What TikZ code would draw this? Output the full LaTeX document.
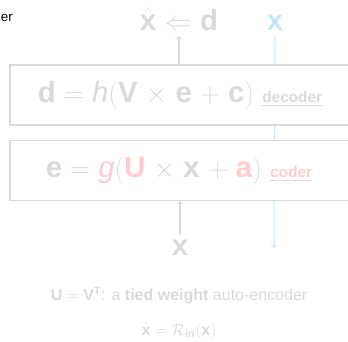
\documentclass[tikz,border=0pt]{standalone}
\usepackage{fontspec}
\setmainfont{Liberation Sans}
\usetikzlibrary{positioning}

\definecolor{fadegray}{RGB}{218,218,218}
\definecolor{fadered}{RGB}{255,205,205}
\definecolor{fadeblue}{RGB}{196,230,248}

\newcommand{\hatx}{$\hat{\hbox{\textbf{x}}}$}

\begin{document}
\begin{tikzpicture}[x=0.75pt, y=-0.75pt,
  layer/.style={draw=fadegray, fill=white, line width=0.8pt,
    minimum width=255pt, minimum height=45pt, inner sep=0pt},
  big/.style={font=\fontsize{22}{26}\selectfont, text=fadegray},
  small/.style={font=\fontsize{12}{14}\selectfont, text=fadegray}]

  \clip (0,0) rectangle (348,341);

  % title, cut at the left edge
  \node[anchor=base east, inner sep=0pt, font=\fontsize{10}{12}\selectfont] (title) at (13,22) {er};

  % output and target
  \node[big, anchor=base] (xhat) at (179,31) {\hatx{} $\Leftarrow$ \textbf{d}};
  \node[big, anchor=base, text=fadeblue] (xtop) at (275,31) {\textbf{x}};
  \coordinate (xend) at (274,248);

  \draw [->][line width=0.8pt, fadeblue] (xtop) -- (xend);

  % layers
  \node[layer] (dec) at (180,95) {};
  \node[layer] (enc) at (180,170.5) {};

  \node[big, anchor=base] (dectext) at (180,103)
    {\textbf{d} $=$ \textit{h}$($\textbf{V} $\times$ \textbf{e} $+$ \textbf{c}$)$
     {\fontsize{11.5}{13}\selectfont\underline{\textbf{decoder}}}};
  \node[big, anchor=base] (enctext) at (179,178)
    {\textbf{e} $=$ \textcolor{fadered}{\textit{g}}$($\textcolor{fadered}{\textbf{U}} $\times$
     \textbf{x} $+$ \textcolor{fadered}{\textbf{a}}$)$
     {\fontsize{11.5}{13}\selectfont\color{fadered}\underline{\textbf{coder}}}};

  % input
  \node[big, anchor=base] (xin) at (180,255) {\textbf{x}};

  \draw [->][line width=0.8pt, fadegray] (xin) -- (enc);
  \draw [->][line width=0.8pt, fadegray] (dec.north -| xhat) -- (xhat);

  % notes
  \node[small, anchor=base] (tied) at (179,300)
    {\textbf{U} $=$ \textbf{V}\textsuperscript{\textbf{T}}: a \textbf{tied weight} auto-encoder};
  \node[small, anchor=base] (recon) at (179,335)
    {\hatx{} $=$ $\mathcal{R}$\textsubscript{\textbf{\textit{in}}}$($\textbf{x}$)$};

\end{tikzpicture}
\end{document}
